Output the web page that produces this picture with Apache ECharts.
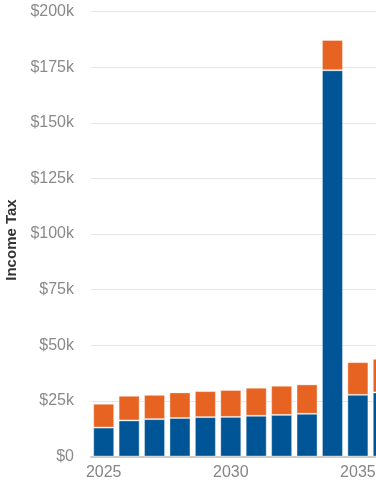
<!DOCTYPE html>
<html><head><meta charset="utf-8">
<script src="https://cdn.jsdelivr.net/npm/echarts@6/dist/echarts.min.js"></script>
<style>html,body{margin:0;padding:0;background:#fff;overflow:hidden;width:376px;height:485px;}#c{width:396px;height:485px;}</style>
</head><body><div id="c"></div>
<script>
var years = ['2025','2026','2027','2028','2029','2030','2031','2032','2033','2034','2035','2036'];
var blueValues = [13.0, 16.2, 16.8, 17.3, 17.7, 17.8, 18.3, 18.7, 19.2, 173.6, 27.7, 28.8];
var orangeValues = [10.7, 11.1, 10.9, 11.5, 11.7, 12.1, 12.6, 13.1, 13.2, 13.6, 14.7, 15.1];
var yTickStep = 25;
var yMax = 200;

var chart = echarts.init(document.getElementById('c'), null, {renderer:'canvas'});
var font = 'Liberation Sans, Arial, sans-serif';
chart.setOption({
  animation:false,
  grid:{left:91, right:0, top:11.5, bottom:28.5, containLabel:false, outerBoundsMode:'none'},
  xAxis:{
    type:'category', data:years,
    axisLine:{lineStyle:{color:'#cccccc', width:2}},
    axisTick:{alignWithLabel:true, length:6, lineStyle:{color:'#cccccc'}},
    axisLabel:{interval:4, color:'#858585', fontSize:16, fontFamily:font, margin:8}
  },
  yAxis:{
    type:'value', min:0, max:yMax, interval:yTickStep,
    name:'Income Tax', nameLocation:'middle', nameGap:69,
    nameTextStyle:{fontWeight:'bold', fontSize:15, color:'#333333', fontFamily:font, padding:[0,12,0,0]},
    axisLine:{show:false}, axisTick:{show:false},
    splitLine:{lineStyle:{color:'#e6e6e6'}},
    axisLabel:{color:'#8a8a8a', fontSize:16, fontFamily:font, margin:17,
      formatter:function(v){return v===0?'$0':'$'+v+'k';}}
  },
  series:[
    {type:'bar', stack:'t', data:blueValues, barWidth:21,
     itemStyle:{color:'#005596', borderColor:'rgba(255,255,255,0.35)', borderWidth:1}},
    {type:'bar', stack:'t', data:orangeValues, barWidth:21,
     itemStyle:{color:'#e66322', borderColor:'rgba(255,255,255,0.35)', borderWidth:1}}
  ]
});
</script></body></html>
